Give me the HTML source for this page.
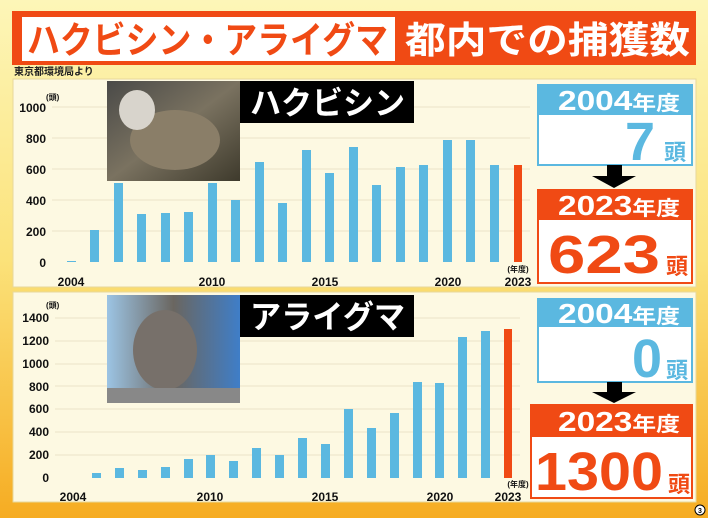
<!DOCTYPE html>
<html><head><meta charset="utf-8"><style>
html,body{margin:0;padding:0;width:708px;height:518px;overflow:hidden}
svg{display:block}
text{font-family:"Liberation Sans","Noto Sans CJK JP",sans-serif;font-weight:bold}
</style></head><body>
<svg width="708" height="518" viewBox="0 0 708 518" xmlns="http://www.w3.org/2000/svg">
<defs>
<linearGradient id="bg" x1="0" y1="0" x2="0" y2="1">
<stop offset="0" stop-color="#fdf6b8"/><stop offset="0.5" stop-color="#fbe27a"/><stop offset="1" stop-color="#f6ac22"/></linearGradient>
<linearGradient id="ph1" x1="0" y1="0" x2="1" y2="1">
<stop offset="0" stop-color="#4a4a48"/><stop offset="0.5" stop-color="#7a7260"/><stop offset="1" stop-color="#3e3a2c"/></linearGradient>
<linearGradient id="ph2" x1="0" y1="0" x2="1" y2="0">
<stop offset="0" stop-color="#9cc4e4"/><stop offset="0.5" stop-color="#6a6660"/><stop offset="1" stop-color="#3f7ec8"/></linearGradient>
</defs>
<rect width="708" height="518" fill="url(#bg)"/>
<!-- title -->
<rect x="12" y="11" width="684" height="54" fill="#f04a14"/>
<rect x="22" y="17" width="373" height="44" fill="#fff"/>
<text x="27" y="53" font-size="37" fill="#f04a14" textLength="361" lengthAdjust="spacingAndGlyphs">ハクビシン・アライグマ</text>
<text x="405" y="53" font-size="37" fill="#fff" textLength="285" lengthAdjust="spacingAndGlyphs">都内での捕獲数</text>
<text x="14" y="75" font-size="10" fill="#222">東京都環境局より</text>

<!-- panel 1 -->
<rect x="13" y="79" width="683" height="208" fill="#fdf9e2" stroke="#e8d89a"/>
<g stroke="#ece4c8" stroke-width="1">
<line x1="52" y1="107" x2="530" y2="107"/><line x1="52" y1="138" x2="530" y2="138"/><line x1="52" y1="169" x2="530" y2="169"/><line x1="52" y1="200" x2="530" y2="200"/><line x1="52" y1="231" x2="530" y2="231"/></g>
<g font-size="12" fill="#111" text-anchor="end">
<text x="46" y="112">1000</text><text x="46" y="143">800</text><text x="46" y="174">600</text><text x="46" y="205">400</text><text x="46" y="236">200</text><text x="46" y="267">0</text></g>
<text x="46" y="100" font-size="8" fill="#111">(頭)</text>
<g font-size="12" fill="#111" text-anchor="middle">
<text x="71" y="286">2004</text><text x="212" y="286">2010</text><text x="325" y="286">2015</text><text x="448" y="286">2020</text><text x="518" y="286">2023</text></g>
<text x="518" y="272" font-size="8" fill="#111" text-anchor="middle">(年度)</text>
<rect x="107" y="81" width="133" height="100" fill="url(#ph1)"/>
<ellipse cx="175" cy="140" rx="45" ry="30" fill="#8a7e68"/>
<ellipse cx="137" cy="110" rx="18" ry="20" fill="#d8d4cc"/>
<rect x="240" y="81" width="174" height="42" fill="#000"/>
<text x="250" y="114" font-size="32" fill="#fff" textLength="155" lengthAdjust="spacingAndGlyphs">ハクビシン</text>

<rect x="538" y="85" width="154" height="80" fill="#fff" stroke="#5bb8e0" stroke-width="2"/>
<rect x="538" y="85" width="154" height="30" fill="#5bb8e0"/>
<text x="558" y="110" font-size="28" fill="#fff" textLength="122" lengthAdjust="spacingAndGlyphs">2004<tspan font-size="20">年度</tspan></text>
<text x="655" y="160" font-size="54" fill="#5bb8e0" text-anchor="end">7</text>
<text x="686" y="160" font-size="22" fill="#5bb8e0" text-anchor="end">頭</text>
<rect x="607" y="165" width="15" height="12" fill="#000"/><polygon points="592,176 636,176 614,188" fill="#000"/>
<rect x="538" y="190" width="154" height="93" fill="#fff" stroke="#f04a14" stroke-width="2"/>
<rect x="538" y="190" width="154" height="30" fill="#f04a14"/>
<text x="558" y="215" font-size="28" fill="#fff" textLength="122" lengthAdjust="spacingAndGlyphs">2023<tspan font-size="20">年度</tspan></text>
<text x="548" y="273" font-size="54" fill="#f04a14" textLength="112" lengthAdjust="spacingAndGlyphs">623</text>
<text x="688" y="274" font-size="22" fill="#f04a14" text-anchor="end">頭</text>

<!-- panel 2 -->
<rect x="13" y="292" width="683" height="210" fill="#fdf9e2" stroke="#e8d89a"/>
<g stroke="#ece4c8" stroke-width="1">
<line x1="55" y1="318" x2="520" y2="318"/><line x1="55" y1="341" x2="520" y2="341"/><line x1="55" y1="364" x2="520" y2="364"/><line x1="55" y1="386" x2="520" y2="386"/><line x1="55" y1="409" x2="520" y2="409"/><line x1="55" y1="432" x2="520" y2="432"/><line x1="55" y1="455" x2="520" y2="455"/></g>
<g font-size="12" fill="#111" text-anchor="end">
<text x="49" y="322">1400</text><text x="49" y="345">1200</text><text x="49" y="368">1000</text><text x="49" y="391">800</text><text x="49" y="413">600</text><text x="49" y="436">400</text><text x="49" y="459">200</text><text x="49" y="482">0</text></g>
<text x="46" y="308" font-size="8" fill="#111">(頭)</text>
<g font-size="12" fill="#111" text-anchor="middle">
<text x="73" y="501">2004</text><text x="210" y="501">2010</text><text x="325" y="501">2015</text><text x="440" y="501">2020</text><text x="508" y="501">2023</text></g>
<text x="518" y="487" font-size="8" fill="#111" text-anchor="middle">(年度)</text>
<rect x="107" y="295" width="133" height="108" fill="url(#ph2)"/>
<ellipse cx="165" cy="350" rx="32" ry="40" fill="#77706a"/>
<rect x="107" y="388" width="133" height="15" fill="#888"/>
<rect x="240" y="295" width="174" height="42" fill="#000"/>
<text x="250" y="328" font-size="32" fill="#fff" textLength="155" lengthAdjust="spacingAndGlyphs">アライグマ</text>

<rect x="538" y="299" width="154" height="83" fill="#fff" stroke="#5bb8e0" stroke-width="2"/>
<rect x="538" y="299" width="154" height="28" fill="#5bb8e0"/>
<text x="558" y="323" font-size="28" fill="#fff" textLength="122" lengthAdjust="spacingAndGlyphs">2004<tspan font-size="20">年度</tspan></text>
<text x="662" y="377" font-size="54" fill="#5bb8e0" text-anchor="end">0</text>
<text x="688" y="378" font-size="22" fill="#5bb8e0" text-anchor="end">頭</text>
<rect x="607" y="382" width="15" height="11" fill="#000"/><polygon points="592,392 636,392 614,403" fill="#000"/>
<rect x="531" y="405" width="161" height="93" fill="#fff" stroke="#f04a14" stroke-width="2"/>
<rect x="531" y="405" width="161" height="32" fill="#f04a14"/>
<text x="558" y="431" font-size="28" fill="#fff" textLength="122" lengthAdjust="spacingAndGlyphs">2023<tspan font-size="20">年度</tspan></text>
<text x="535" y="490" font-size="54" fill="#f04a14" textLength="128" lengthAdjust="spacingAndGlyphs">1300</text>
<text x="690" y="492" font-size="22" fill="#f04a14" text-anchor="end">頭</text>
<circle cx="700" cy="510" r="5" fill="#fff" stroke="#000"/><text x="700" y="513" font-size="7" text-anchor="middle" fill="#000">3</text>

<!-- bars -->
<g fill="#5bb8e0">
<rect x="67" y="261" width="9" height="1"/>
<rect x="90" y="230" width="9" height="32"/>
<rect x="114" y="183" width="9" height="79"/>
<rect x="137" y="214" width="9" height="48"/>
<rect x="161" y="213" width="9" height="49"/>
<rect x="184" y="212" width="9" height="50"/>
<rect x="208" y="183" width="9" height="79"/>
<rect x="231" y="200" width="9" height="62"/>
<rect x="255" y="162" width="9" height="100"/>
<rect x="278" y="203" width="9" height="59"/>
<rect x="302" y="150" width="9" height="112"/>
<rect x="325" y="173" width="9" height="89"/>
<rect x="349" y="147" width="9" height="115"/>
<rect x="372" y="185" width="9" height="77"/>
<rect x="396" y="167" width="9" height="95"/>
<rect x="419" y="165" width="9" height="97"/>
<rect x="443" y="140" width="9" height="122"/>
<rect x="466" y="140" width="9" height="122"/>
<rect x="490" y="165" width="9" height="97"/>
</g>
<rect x="514" y="165" width="8" height="97" fill="#f04a14"/>
<g fill="#5bb8e0">
<rect x="92" y="473" width="9" height="5"/>
<rect x="115" y="468" width="9" height="10"/>
<rect x="138" y="470" width="9" height="8"/>
<rect x="161" y="467" width="9" height="11"/>
<rect x="184" y="459" width="9" height="19"/>
<rect x="206" y="455" width="9" height="23"/>
<rect x="229" y="461" width="9" height="17"/>
<rect x="252" y="448" width="9" height="30"/>
<rect x="275" y="455" width="9" height="23"/>
<rect x="298" y="438" width="9" height="40"/>
<rect x="321" y="444" width="9" height="34"/>
<rect x="344" y="409" width="9" height="69"/>
<rect x="367" y="428" width="9" height="50"/>
<rect x="390" y="413" width="9" height="65"/>
<rect x="413" y="382" width="9" height="96"/>
<rect x="435" y="383" width="9" height="95"/>
<rect x="458" y="337" width="9" height="141"/>
<rect x="481" y="331" width="9" height="147"/>
</g>
<rect x="504" y="329" width="8" height="149" fill="#f04a14"/>
</svg>
</body></html>
